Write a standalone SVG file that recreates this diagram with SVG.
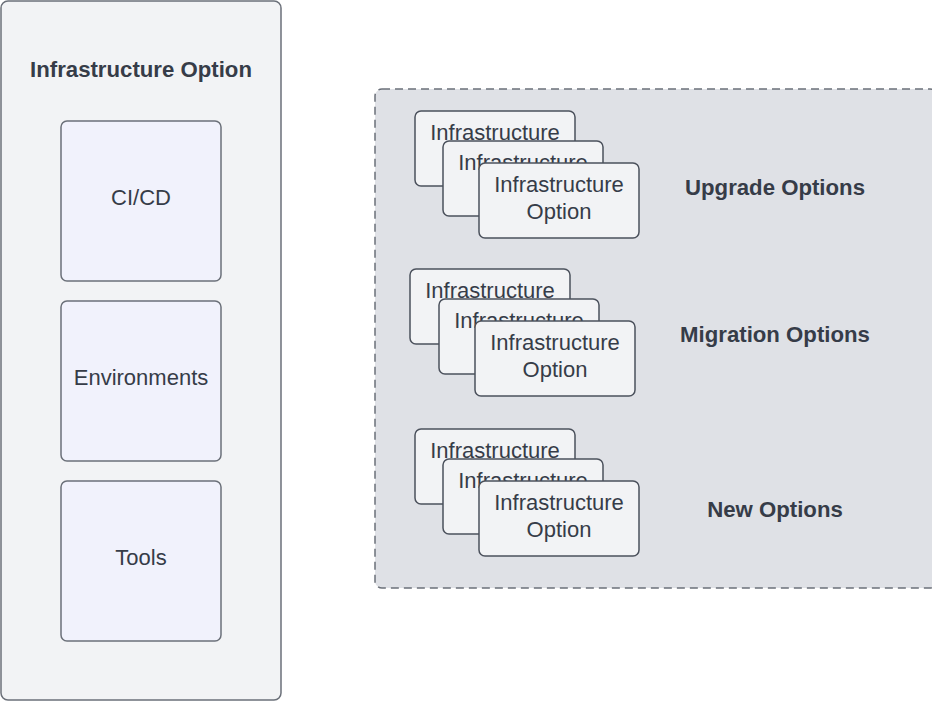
<svg xmlns="http://www.w3.org/2000/svg" width="932" height="701" viewBox="0 0 932 701">
<style>
.outer{fill:#f2f3f5;stroke:#6b7079;stroke-width:1.5}
.inner{fill:#f1f2fc;stroke:#6b7079;stroke-width:1.5}
.group{fill:#dfe1e6;stroke:#6b7079;stroke-width:1.5;stroke-dasharray:8 5}
.card{fill:#f2f3f5;stroke:#4b515c;stroke-width:1.5}
.t{font-family:"Liberation Sans",Arial,sans-serif;font-size:22px;fill:#363c48;text-anchor:middle;dominant-baseline:central}
.b{font-weight:bold;font-size:22.2px}
</style>
<g id="infra-option">
<rect class="outer" x="1" y="1" width="280" height="699" rx="7"/>
<text class="t b" x="141" y="69">Infrastructure Option</text>
</g>
<g id="cicd"><rect class="inner" x="61" y="121" width="160" height="160" rx="6"/><text class="t" x="141" y="197">CI/CD</text></g>
<g id="environments"><rect class="inner" x="61" y="301" width="160" height="160" rx="6"/><text class="t" x="141" y="377">Environments</text></g>
<g id="tools"><rect class="inner" x="61" y="481" width="160" height="160" rx="6"/><text class="t" x="141" y="557">Tools</text></g>
<g id="options-group"><rect class="group" x="375" y="89" width="562" height="499" rx="7"/></g>
<g id="upgrade-1"><rect class="card" x="415" y="111" width="160" height="75" rx="6"/><text class="t" x="495" y="132">Infrastructure</text></g>
<g id="upgrade-2"><rect class="card" x="443" y="141" width="160" height="75" rx="6"/><text class="t" x="523" y="162">Infrastructure</text></g>
<g id="upgrade-3"><rect class="card" x="479" y="163" width="160" height="75" rx="6"/><text class="t" x="559" y="184">Infrastructure</text><text class="t" x="559" y="211">Option</text></g>
<g id="upgrade-label"><text class="t b" x="775" y="187">Upgrade Options</text></g>
<g id="migration-1"><rect class="card" x="410" y="269" width="160" height="75" rx="6"/><text class="t" x="490" y="290">Infrastructure</text></g>
<g id="migration-2"><rect class="card" x="439" y="299" width="160" height="75" rx="6"/><text class="t" x="519" y="320">Infrastructure</text></g>
<g id="migration-3"><rect class="card" x="475" y="321" width="160" height="75" rx="6"/><text class="t" x="555" y="342">Infrastructure</text><text class="t" x="555" y="369">Option</text></g>
<g id="migration-label"><text class="t b" x="775" y="334">Migration Options</text></g>
<g id="new-1"><rect class="card" x="415" y="429" width="160" height="75" rx="6"/><text class="t" x="495" y="450">Infrastructure</text></g>
<g id="new-2"><rect class="card" x="443" y="459" width="160" height="75" rx="6"/><text class="t" x="523" y="480">Infrastructure</text></g>
<g id="new-3"><rect class="card" x="479" y="481" width="160" height="75" rx="6"/><text class="t" x="559" y="502">Infrastructure</text><text class="t" x="559" y="529">Option</text></g>
<g id="new-label"><text class="t b" x="775" y="509">New Options</text></g>
<g id="connectors"/>
</svg>
